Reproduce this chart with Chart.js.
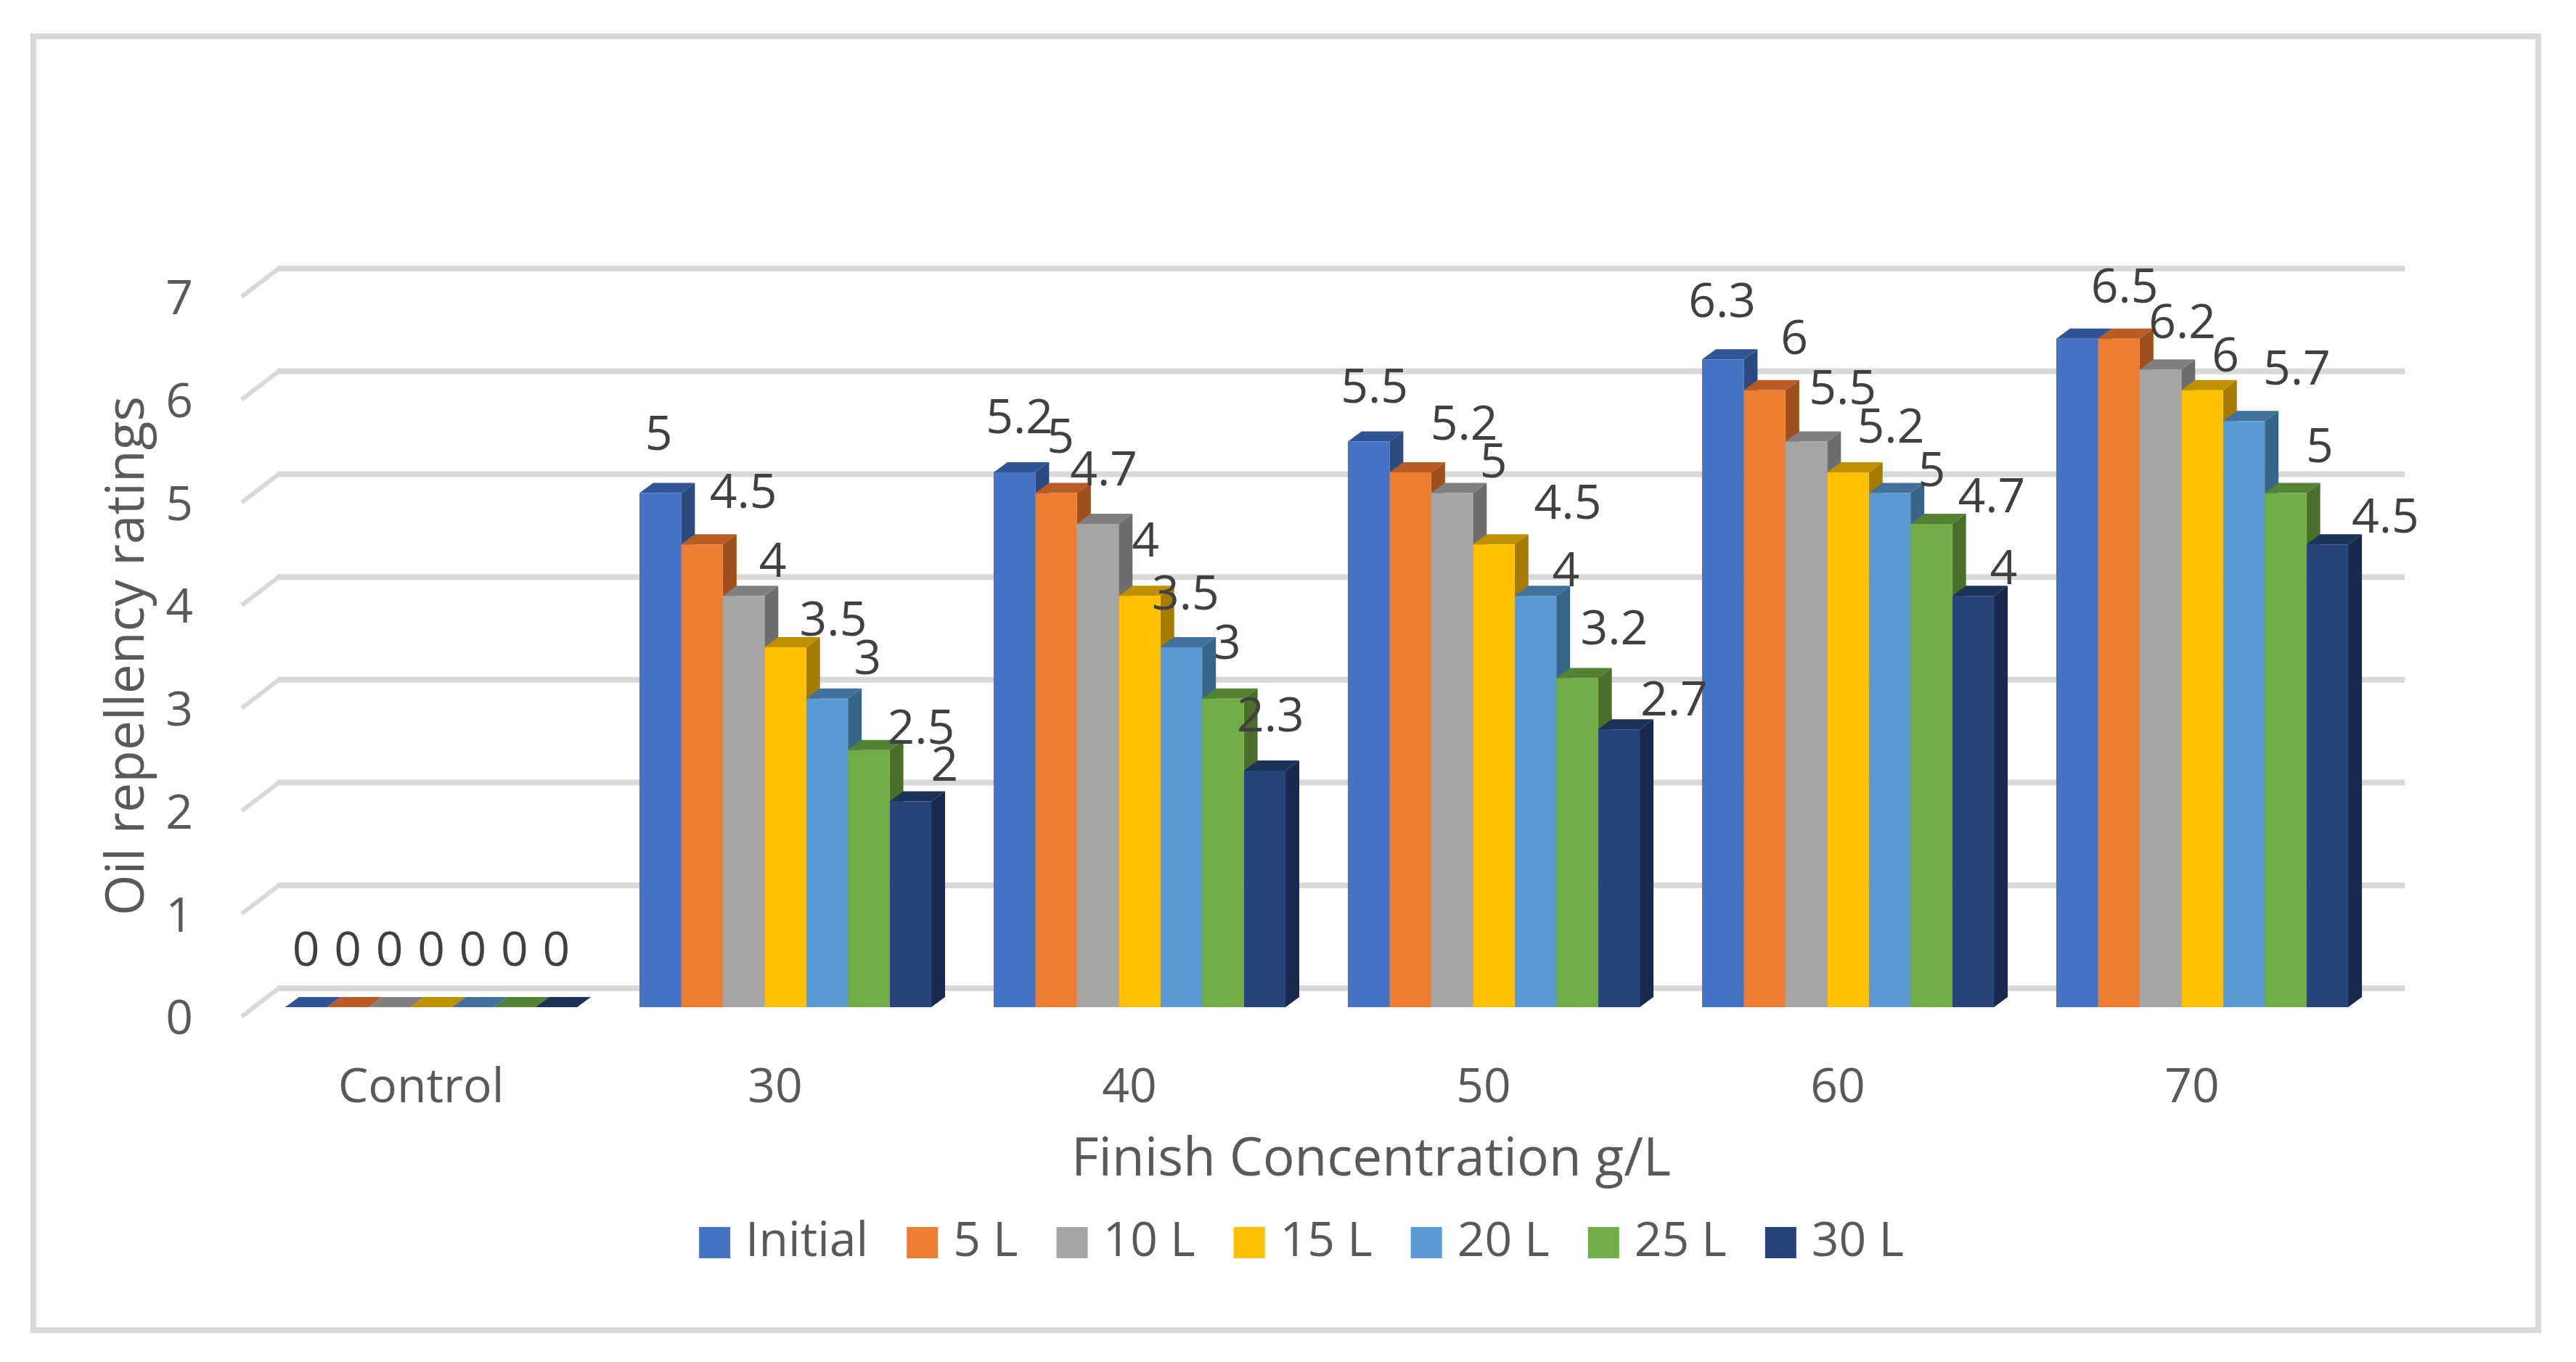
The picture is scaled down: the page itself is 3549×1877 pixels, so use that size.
<!DOCTYPE html>
<html>
<head>
<meta charset="utf-8">
<style>
  html, body { margin: 0; padding: 0; background: #fff; }
  canvas { display: block; }
</style>
<script src="https://cdn.jsdelivr.net/npm/chart.js@4"></script>
</head>
<body>
<canvas id="myChart" width="3549" height="1877"></canvas>
<script>
const categories = ['Control', '30', '40', '50', '60', '70'];
const seriesNames = ['Initial', '5 L', '10 L', '15 L', '20 L', '25 L', '30 L'];
const initial = [0, 5, 5.2, 5.5, 6.3, 6.5];
const after5 = [0, 4.5, 5, 5.2, 6, 6.5];
const after10 = [0, 4, 4.7, 5, 5.5, 6.2];
const after15 = [0, 3.5, 4, 4.5, 5.2, 6];
const after20 = [0, 3, 3.5, 4, 5, 5.7];
const after25 = [0, 2.5, 3, 3.2, 4.7, 5];
const after30 = [0, 2, 2.3, 2.7, 4, 4.5];
const yTicks = [0, 1, 2, 3, 4, 5, 6, 7];

const frontColors = ['#4472c4', '#ed7d31', '#a5a5a5', '#ffc000', '#5b9bd5', '#70ad47', '#264478'];
const topColors = ['#2f5597', '#b85c26', '#7f7f7f', '#bf9000', '#41719c', '#548235', '#1b3358'];
const sideColors = ['#2a4a80', '#9e4f1d', '#6d6d6d', '#a67c00', '#386487', '#487029', '#172a4e'];

// the labels were moved by hand in the original, so each one gets its own nudge from the bar top
// [dx, dy] per category, per series; null = the label is hidden under its neighbour
const labelNudges = [
  [[0, -76], [-2, -78], [7, -73], [8, -72], [-1, -77], null],
  [[0, -76], [57, -69], [6, -74], [74, -64], [41, -69], [8, -69]],
  [[0, -76], [40, -45], [8, -72], [57, -40], [50, -70], [30, -62]],
  [[0, -76], [66, -35], [8, -73], [102, -54], [59, -60], [32, -45]],
  [[0, -76], [56, -53], [6, -71], [42, -32], [58, -28], [73, -69]],
  [[0, -76], [72, -28], [6, -74], [51, -65], [83, -35], [47, -61]],
  [[0, -76], [47, -47], [8, -73], [76, -38], [42, -35], [80, -35]]
];

const FONT = '"Open Sans", sans-serif';
const FONT_SIZE = 66;
const TITLE_SIZE = 73;
const AXIS_GREY = '#595959';
const LINE_GREY = '#d9d9d9';

// depth of the fake 3D
const BAR_DX = 19, BAR_DY = 14;
const WALL_LEFT = 333, WALL_BACK = 384, WALL_RIGHT = 3313;
const WALL_FRONT_DY = 13, WALL_BACK_DY = -26;

const fake3d = {
  id: 'fake3d',
  afterLayout(chart) {
    // legend is centred a bit right of the box it gets
    chart.legend.left += 60;
    chart.legend.right += 60;
  },
  beforeDraw(chart) {
    const c = chart.ctx;
    c.save();
    c.fillStyle = '#fff';
    c.fillRect(0, 0, chart.width, chart.height);
    c.strokeStyle = LINE_GREY;
    c.lineWidth = 8;
    c.strokeRect(46, 50, 3451, 1783);
    c.restore();
  },
  beforeDatasetsDraw(chart) {
    const c = chart.ctx;
    const y = chart.scales.y;
    c.save();
    // wall gridlines
    c.strokeStyle = LINE_GREY;
    yTicks.forEach(t => {
      const p = y.getPixelForValue(t);
      c.lineWidth = 6;
      c.beginPath();
      c.moveTo(WALL_LEFT, p + WALL_FRONT_DY);
      c.lineTo(WALL_BACK, p + WALL_BACK_DY);
      c.stroke();
      c.lineWidth = 8;
      c.beginPath();
      c.moveTo(WALL_BACK - 2, p + WALL_BACK_DY);
      c.lineTo(WALL_RIGHT, p + WALL_BACK_DY);
      c.stroke();
    });
    // side and top faces, the fronts go over them afterwards
    categories.forEach((cat, i) => {
      chart.data.datasets.forEach((ds, d) => {
        const b = chart.getDatasetMeta(d).data[i];
        const left = b.x - b.width / 2, right = b.x + b.width / 2;
        c.fillStyle = sideColors[d];
        c.beginPath();
        c.moveTo(right, b.y);
        c.lineTo(right + BAR_DX, b.y - BAR_DY);
        c.lineTo(right + BAR_DX, b.base - BAR_DY);
        c.lineTo(right, b.base);
        c.closePath();
        c.fill();
        c.fillStyle = topColors[d];
        c.beginPath();
        c.moveTo(left, b.y);
        c.lineTo(left + BAR_DX, b.y - BAR_DY);
        c.lineTo(right + BAR_DX, b.y - BAR_DY);
        c.lineTo(right, b.y);
        c.closePath();
        c.fill();
      });
    });
    c.restore();
  },
  afterDatasetsDraw(chart) {
    const c = chart.ctx;
    c.save();
    c.font = FONT_SIZE + 'px ' + FONT;
    c.textAlign = 'center';
    c.textBaseline = 'middle';
    c.fillStyle = '#404040';
    chart.data.datasets.forEach((ds, d) => {
      chart.getDatasetMeta(d).data.forEach((b, i) => {
        const n = labelNudges[d][i];
        if (n) c.fillText(String(ds.data[i]), b.x + n[0], b.y + n[1]);
      });
    });
    // axis titles sit off-centre in the original
    c.font = TITLE_SIZE + 'px ' + FONT;
    c.fillStyle = AXIS_GREY;
    c.fillText('Finish Concentration g/L', 1889, 1599);
    c.translate(177, 904);
    c.rotate(-Math.PI / 2);
    c.fillText('Oil repellency ratings', 0, 0);
    c.restore();
  }
};

const ctx = document.getElementById('myChart').getContext('2d');
const myChart = new Chart(ctx, {
  type: 'bar',
  data: {
    labels: categories,
    datasets: [initial, after5, after10, after15, after20, after25, after30].map((values, d) => ({
      label: seriesNames[d],
      data: values,
      backgroundColor: frontColors[d],
      barPercentage: 1,
      categoryPercentage: 0.824
    }))
  },
  options: {
    responsive: false,
    animation: false,
    devicePixelRatio: 1,
    layout: { padding: { left: 200, right: 271, top: 396, bottom: 121.6 } },
    plugins: {
      tooltip: { enabled: false },
      legend: {
        position: 'bottom',
        labels: {
          color: AXIS_GREY,
          font: { family: FONT, size: FONT_SIZE },
          boxWidth: 19,
          boxHeight: 19,
          padding: 65,
          // thick border in the fill colour: makes a 43px swatch with a tight gap to the text
          generateLabels(chart) {
            return Chart.defaults.plugins.legend.labels.generateLabels(chart).map((item, d) => {
              item.strokeStyle = frontColors[d];
              item.lineWidth = 24;
              item.lineJoin = 'miter';
              return item;
            });
          }
        }
      }
    },
    scales: {
      x: {
        grid: { display: false },
        border: { display: false },
        ticks: { color: AXIS_GREY, font: { family: FONT, size: FONT_SIZE }, padding: 65, labelOffset: -14, maxRotation: 0 },
        afterFit(s) { s.height = 226.4; }
      },
      y: {
        min: 0,
        max: 7,
        grid: { display: false },
        border: { display: false },
        ticks: {
          stepSize: 1,
          color: AXIS_GREY,
          font: { family: FONT, size: FONT_SIZE },
          padding: 76,
          labelOffset: 18.5
        },
        afterFit(s) { s.width = 150; }
      }
    }
  },
  plugins: [fake3d]
});
</script>
</body>
</html>
